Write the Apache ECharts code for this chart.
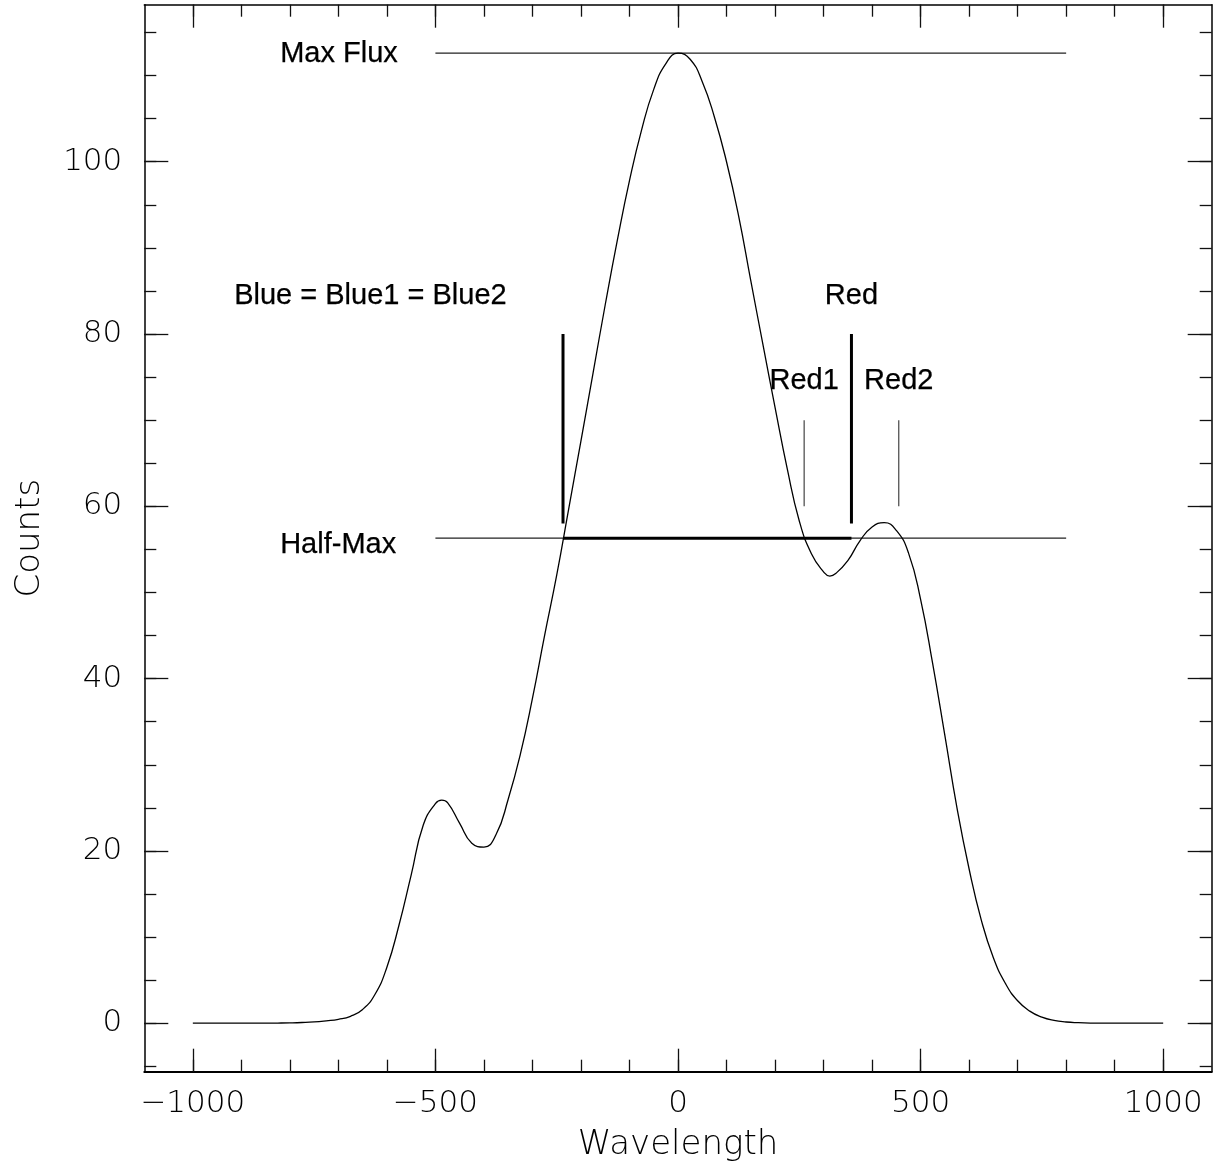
<!DOCTYPE html>
<html><head><meta charset="utf-8">
<script src="https://cdn.jsdelivr.net/npm/echarts@6/dist/echarts.min.js"></script>
<style>html,body{margin:0;padding:0;background:#fff}#c{width:1215px;height:1170px}</style>
</head><body><div id="c"></div>
<script>
// ---- data ----
const wavelength = [-1000,-975,-950,-925,-900,-875,-850,-825,-800,-775,-750,-725,-700,-675,-650,-625,-600,-575,-550,-525,-500,-487,-475,-450,-425,-400,-375,-350,-325,-300,-275,-250,-225,-200,-175,-150,-125,-100,-75,-50,-25,0,25,50,75,100,125,150,175,200,225,250,275,300,313,325,350,375,400,425,450,475,500,525,550,575,600,625,650,675,700,725,750,775,800,825,850,875,900,925,950,975,1000];
const counts = [0,0,0,0,0,0,0.01,0.02,0.04,0.08,0.15,0.28,0.45,0.8,1.6,3.3,6.5,11.4,17.2,23.0,25.5,25.9,25.6,23.2,20.9,20.45,21.9,26.0,31.2,37.7,45.0,52.0,59.8,67.6,75.5,83.4,90.9,97.8,103.7,108.4,111.4,112.6,111.9,109.3,105.2,100.0,93.7,86.2,78.8,71.5,64.4,58.3,54.5,52.4,51.9,52.2,53.7,56.0,57.6,58.1,57.2,54.6,49.2,41.7,33.4,25.0,17.9,12.0,7.6,4.6,2.6,1.4,0.7,0.32,0.14,0.06,0.02,0.01,0,0,0,0,0];
const xRange = [-1100, 1100];
const yRange = [-5.63, 118.23];
const xMajorTicks = [-1000,-500,0,500,1000];
const xMinorTicks = [-1000,-900,-800,-700,-600,-500,-400,-300,-200,-100,0,100,200,300,400,500,600,700,800,900,1000];
const yMajorTicks = [0,20,40,60,80,100];
const yMinorTicks = [-5,0,5,10,15,20,25,30,35,40,45,50,55,60,65,70,75,80,85,90,95,100,105,110,115];
const maxFlux = 112.6;
const halfMax = 56.3;
const refLineRange = [-500, 800];
const blueEdge = -237;
const red1Edge = 260;
const red2Edge = 455;
const redEdge = (red1Edge + red2Edge) / 2;
const edgeBarRange = [58, 80];
const subEdgeBarRange = [60, 70];
const annotationTexts = ['Max Flux', 'Half-Max', 'Blue = Blue1 = Blue2', 'Red', 'Red1', 'Red2'];
const annotationX = [-820, -820, -634, redEdge, red1Edge, red2Edge];
const annotationY = [112.5, 55.5, 84.4, 84.4, 74.5, 74.5];
const annotationAlign = ['left', 'left', 'center', 'center', 'center', 'center'];

// ---- chart ----
const chart = echarts.init(document.getElementById('c'));
const tickFont = { fontFamily: 'DejaVu Sans', fontSize: 31, fontWeight: 200, color: '#000' };
const fmt = v => (v < 0 ? '\u2212' + Math.abs(v) : String(v));

function xAx(pos, ticks, len, labels, line, lineW) {
  return {
    type: 'value', position: pos, min: xRange[0], max: xRange[1],
    axisLine: { show: line, onZero: false, lineStyle: { color: '#000', width: lineW } },
    axisTick: { show: true, inside: true, length: len, customValues: ticks, lineStyle: { color: '#111', width: 1.3 } },
    axisLabel: labels ? Object.assign({ show: true, customValues: ticks, margin: 17, formatter: fmt }, tickFont) : { show: false },
    splitLine: { show: false },
    name: labels ? 'Wavelength' : '', nameLocation: 'middle', nameGap: 56,
    nameTextStyle: { fontFamily: 'DejaVu Sans', fontSize: 34, fontWeight: 200, color: '#000' }
  };
}
function yAx(pos, ticks, len, labels, line) {
  return {
    type: 'value', position: pos, min: yRange[0], max: yRange[1],
    axisLine: { show: line, onZero: false, lineStyle: { color: '#000', width: 1.5 } },
    axisTick: { show: true, inside: true, length: len, customValues: ticks, lineStyle: { color: '#111', width: 1.3 } },
    axisLabel: labels ? Object.assign({ show: true, customValues: ticks, margin: 22, formatter: fmt }, tickFont) : { show: false },
    splitLine: { show: false },
    name: labels ? 'Counts' : '', nameLocation: 'middle', nameGap: 97,
    nameTextStyle: { fontFamily: 'DejaVu Sans', fontSize: 34, fontWeight: 200, color: '#000' }
  };
}

function seg(points, width, color) {
  return {
    type: 'line', xAxisIndex: 0, yAxisIndex: 0, data: points, showSymbol: false, silent: true,
    lineStyle: { color: color, width: width }, z: 3
  };
}

const series = [
  {
    type: 'line', xAxisIndex: 0, yAxisIndex: 0, showSymbol: false, silent: true, smooth: 0.5,
    data: wavelength.map((w, i) => [w, counts[i]]),
    lineStyle: { color: '#000', width: 1.3 }, z: 4
  },
  seg([[refLineRange[0], maxFlux], [refLineRange[1], maxFlux]], 1.2, '#222'),
  seg([[refLineRange[0], halfMax], [refLineRange[1], halfMax]], 1.2, '#222'),
  seg([[blueEdge, halfMax], [redEdge, halfMax]], 3, '#000'),
  seg([[blueEdge, edgeBarRange[0]], [blueEdge, edgeBarRange[1]]], 3, '#000'),
  seg([[redEdge, edgeBarRange[0]], [redEdge, edgeBarRange[1]]], 3, '#000'),
  seg([[red1Edge, subEdgeBarRange[0]], [red1Edge, subEdgeBarRange[1]]], 1.2, '#444'),
  seg([[red2Edge, subEdgeBarRange[0]], [red2Edge, subEdgeBarRange[1]]], 1.2, '#444'),
  {
    type: 'scatter', xAxisIndex: 0, yAxisIndex: 0, silent: true, symbolSize: 1,
    itemStyle: { color: 'rgba(0,0,0,0)' },
    data: annotationTexts.map((t, i) => ({
      value: [annotationX[i], annotationY[i]],
      label: {
        show: true, position: 'inside', formatter: t, align: annotationAlign[i], verticalAlign: 'middle',
        fontFamily: 'Liberation Sans', fontSize: 29, color: '#000', opacity: 1,
        textBorderColor: '#000', textBorderWidth: 0.25
      }
    })),
    z: 5
  }
];

chart.setOption({
  animation: false,
  backgroundColor: '#fff',
  grid: { left: 144.3, right: 3.3, top: 4.7, bottom: 98.3, containLabel: false, outerBoundsMode: 'none' },
  xAxis: [
    xAx('bottom', xMajorTicks, 23, true, true, 2),
    xAx('bottom', xMinorTicks, 12, false, false, 1),
    xAx('top', xMajorTicks, 23, false, true, 1.5),
    xAx('top', xMinorTicks, 12, false, false, 1)
  ],
  yAxis: [
    yAx('left', yMajorTicks, 24, true, true),
    yAx('left', yMinorTicks, 12, false, false),
    yAx('right', yMajorTicks, 24, false, true),
    yAx('right', yMinorTicks, 12, false, false)
  ],
  series: series
});
</script></body></html>
